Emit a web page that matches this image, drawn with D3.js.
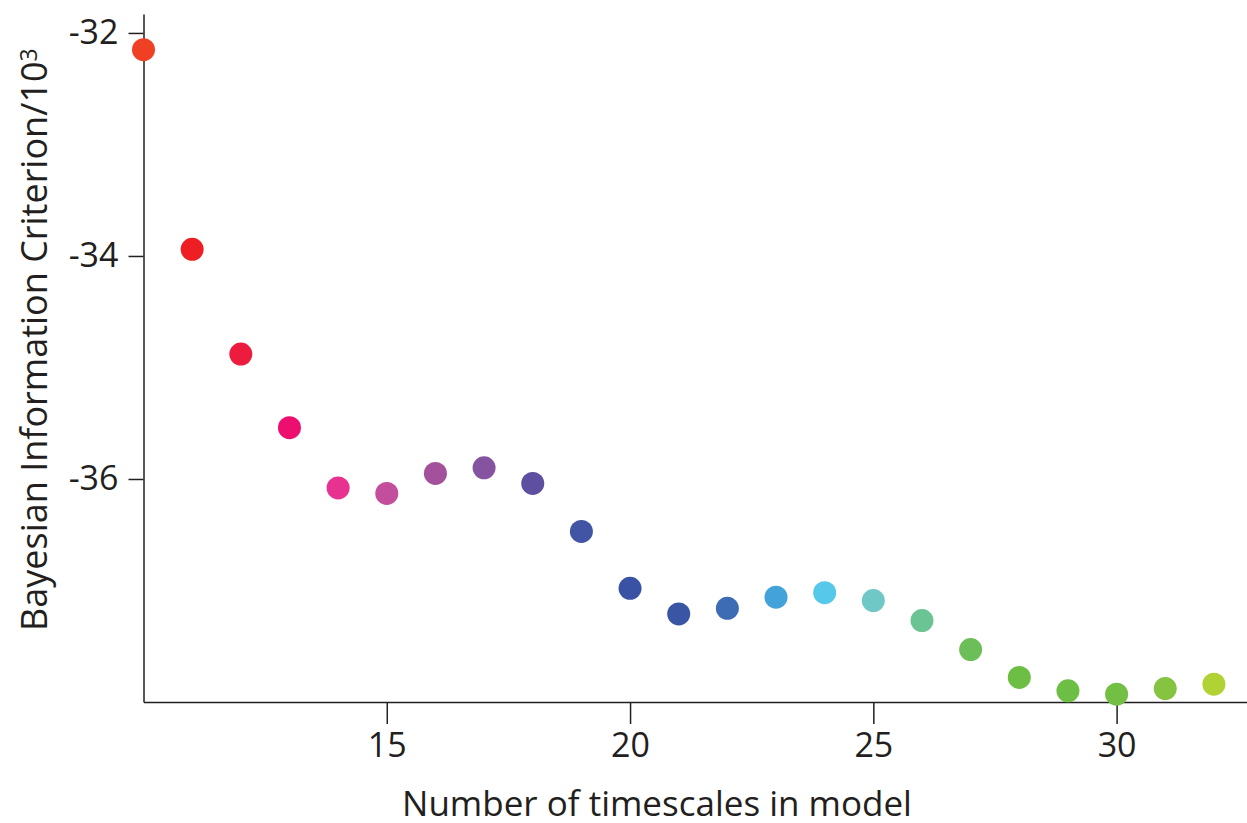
<!DOCTYPE html>
<html>
<head>
<meta charset="utf-8">
<script src="https://cdn.jsdelivr.net/npm/d3@7"></script>
<style>
  body { margin: 0; background: #fff; }
  text { font-family: "Open Sans", "Noto Sans", sans-serif; fill: #231f20; }
</style>
</head>
<body>
<div id="chart-container"></div>
<script>
// Number of timescales in the model
const timescales = [10, 11, 12, 13, 14, 15, 16, 17, 18, 19, 20, 21, 22, 23, 24, 25, 26, 27, 28, 29, 30, 31, 32];

// BIC / 10^3
const bicValues = [-32.15, -33.94, -34.88, -35.54, -36.08, -36.13, -35.95, -35.90, -36.04, -36.47,
                   -36.98, -37.21, -37.16, -37.06, -37.02, -37.09, -37.27, -37.53, -37.78, -37.90,
                   -37.93, -37.88, -37.84];

// one colour per point
const pointColors = ["#ef4023", "#ed1f24", "#ec1c3f", "#ec0f6f", "#e8328f", "#c34e9b", "#a4519c",
                     "#8553a0", "#5e4fa0", "#4255a4", "#3a52a3", "#3a55a4", "#3d6cb4", "#43a2da",
                     "#56c8e9", "#6fc7c6", "#6bc493", "#6cbf58", "#6dbe45", "#6cbe45", "#72bf44",
                     "#86c340", "#b1d234"];

const xTicks = [15, 20, 25, 30];
const yTicks = [-32, -34, -36];

const width = 1247;
const height = 823;
const margin = { top: 14, right: 0, bottom: 121, left: 143.5 };

const xScale = d3.scaleLinear()
    .domain([10, 32.68])
    .range([margin.left, width - margin.right]);

const yScale = d3.scaleLinear()
    .domain([-38, -31.83])
    .range([height - margin.bottom, margin.top]);

const svg = d3.select("#chart-container")
    .append("svg")
    .attr("width", width)
    .attr("height", height);

// plain hyphen instead of unicode minus, as in the original
const fmt = (d) => String(d);

// X axis
const xAxis = svg.append("g")
    .attr("transform", `translate(0, ${height - margin.bottom})`)
    .call(d3.axisBottom(xScale).tickValues(xTicks).tickFormat(fmt)
        .tickSize(22).tickSizeOuter(0).tickPadding(9));

// Y axis
const yAxis = svg.append("g")
    .attr("transform", `translate(${margin.left}, 0)`)
    .call(d3.axisLeft(yScale).tickValues(yTicks).tickFormat(fmt)
        .tickSize(15).tickSizeOuter(0).tickPadding(10));

[xAxis, yAxis].forEach((g) => {
    g.select(".domain").attr("stroke", "#231f20").attr("stroke-width", 1.5);
    g.selectAll(".tick line").attr("stroke", "#231f20").attr("stroke-width", 1.5);
    g.selectAll(".tick text")
        .attr("fill", "#231f20")
        .style("font-size", "34px")
        .style("font-family", "\"Open Sans\", sans-serif");
});

// Points
svg.append("g")
    .selectAll("circle")
    .data(timescales)
    .enter()
    .append("circle")
    .attr("cx", (d) => xScale(d))
    .attr("cy", (d, i) => yScale(bicValues[i]))
    .attr("r", 11.5)
    .attr("fill", (d, i) => pointColors[i]);

// Axis titles
svg.append("text")
    .attr("x", 657)
    .attr("y", 816)
    .attr("text-anchor", "middle")
    .style("font-size", "35px")
    .text("Number of timescales in model");

const yTitle = svg.append("text")
    .attr("transform", "translate(47, 631) rotate(-90)")
    .attr("text-anchor", "start")
    .style("font-size", "36px");
yTitle.append("tspan").text("Bayesian Information Criterion/10");
yTitle.append("tspan")
    .attr("dy", "-0.45em")
    .style("font-size", "23px")
    .text("3");
</script>
</body>
</html>
